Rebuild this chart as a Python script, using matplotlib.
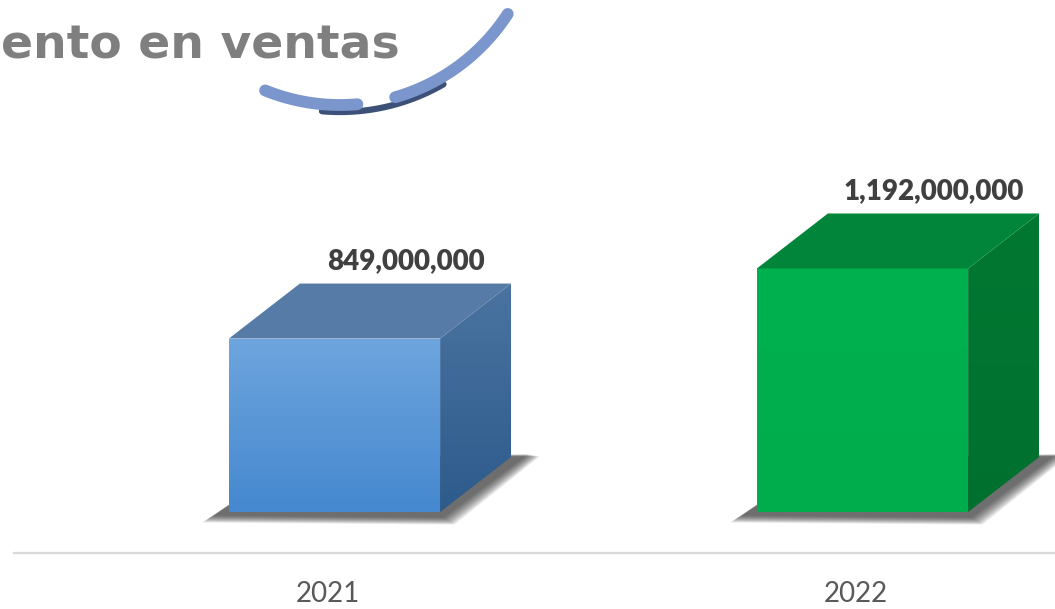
import numpy as np
import matplotlib.pyplot as plt
from matplotlib.patches import Polygon
from matplotlib.colors import LinearSegmentedColormap

years = ['2021', '2022']
sales = [849_000_000, 1_192_000_000]
sales_labels = ['849,000,000', '1,192,000,000']

front_top = ['#6ea5de', '#00b04f']
front_bottom = ['#4588cf', '#00ad4c']
top_colors = ['#557ba6', '#00853b']
side_top = ['#4a73a0', '#007832']
side_bottom = ['#2d5b8c', '#00702f']

PX_X = 1 / 528          # category units per pixel
PX_Y = 4.895e6          # value units per pixel
W = 0.4                 # bar width
DX = 71 * PX_X          # depth offset (x)
DY = 55 * PX_Y          # depth offset (y)

fig = plt.figure(figsize=(10.55, 6.09), dpi=100)
ax = fig.add_axes([0, 0, 1, 1])


def gradient(ax, poly, extent, c1, c2, z):
    cmap = LinearSegmentedColormap.from_list('g', [c2, c1])
    grad = np.linspace(0, 1, 256).reshape(-1, 1)
    im = ax.imshow(grad, cmap=cmap, extent=extent, origin='lower',
                   aspect='auto', zorder=z, interpolation='bicubic')
    im.set_clip_path(poly)


for i, v in enumerate(sales):
    x0, x1 = i - W / 2, i + W / 2

    # blurred drop shadow on the floor
    for k in range(14):
        g = (14 - k) * 0.9
        sh = Polygon([(x0 - (14 + g) * PX_X, -(3 + g * 0.6) * PX_Y),
                      (x1 + (2 + g) * PX_X, -(5 + g * 0.6) * PX_Y),
                      (x1 + DX + (16 + g) * PX_X, DY + (3 - g * 0.2) * PX_Y),
                      (x0 + DX, DY)],
                     closed=True, facecolor='#2a2a2a', edgecolor='none',
                     alpha=0.075, zorder=1)
        ax.add_patch(sh)

    front = Polygon([(x0, 0), (x1, 0), (x1, v), (x0, v)], closed=True,
                    facecolor='none', edgecolor='none', zorder=3)
    ax.add_patch(front)
    gradient(ax, front, [x0, x1, 0, v], front_top[i], front_bottom[i], 3)

    side = Polygon([(x1, 0), (x1 + DX, DY), (x1 + DX, v + DY), (x1, v)],
                   closed=True, facecolor='none', edgecolor='none', zorder=3)
    ax.add_patch(side)
    gradient(ax, side, [x1, x1 + DX, 0, v + DY], side_top[i], side_bottom[i], 3)

    top = Polygon([(x0, v), (x1, v), (x1 + DX, v + DY), (x0 + DX, v + DY)],
                  closed=True, facecolor=top_colors[i], edgecolor='none', zorder=4)
    ax.add_patch(top)

    ax.annotate(sales_labels[i], (i + DX, v + DY), xytext=(0, 22),
                textcoords='offset pixels', ha='center', va='center',
                fontsize=20, fontweight='heavy', family='Lato', color='#404040')

    ax.text(i - 6.5 * PX_X, 15 / 609, years[i], transform=ax.get_xaxis_transform(),
            ha='center', va='center', fontsize=20, family='Lato', color='#595959')

ax.set_xlim(-334.5 * PX_X, (1055 - 334.5) * PX_X)
ax.set_ylim(-97 * PX_Y, (609 - 97) * PX_Y)
ax.axis('off')

# floor line
fig.add_artist(plt.Line2D([14 / 1055, 1], [1 - 553 / 609] * 2,
                          color='#d9d9d9', lw=1.6, transform=fig.transFigure))

# title + decorative arcs (pixel overlay)
deco = fig.add_axes([0, 0, 1, 1], zorder=5)
deco.set_xlim(0, 1055)
deco.set_ylim(609, 0)
deco.axis('off')
deco.text(1, 46, 'ento en ventas', ha='left', va='center', fontsize=34,
          fontweight='bold', color='#7f7f7f')

cx, cy = 340, -95


def arc(r, a0, a1, color, lw):
    t = np.radians(np.linspace(a0, a1, 80))
    deco.plot(cx + r * np.cos(t), cy + r * np.sin(t), color=color, lw=lw,
              solid_capstyle='round')


arc(207, 95, 60, '#3c5078', 4.5)
arc(200, 112, 85, '#7b96cc', 8.5)
arc(200, 74, 33, '#7b96cc', 8.5)

fig.savefig('out.png', dpi=100)
